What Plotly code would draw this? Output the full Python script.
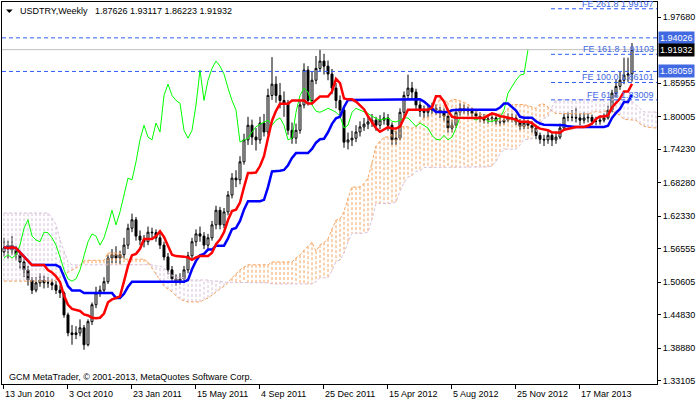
import plotly.graph_objects as go
import pandas as pd

# ---------------- data ----------------
x_tick_bars = [0, 16, 32, 48, 64, 80, 96, 112, 128, 144]
x_tick_labels = ["13 Jun 2010", "3 Oct 2010", "23 Jan 2011", "15 May 2011", "4 Sep 2011",
                 "25 Dec 2011", "15 Apr 2012", "5 Aug 2012", "25 Nov 2012", "17 Mar 2013"]

closes = [1.567, 1.572, 1.563, 1.555, 1.542, 1.528, 1.510, 1.492, 1.505, 1.510,
          1.505, 1.505, 1.501, 1.492, 1.487, 1.448, 1.416, 1.413, 1.416, 1.425,
          1.395, 1.436, 1.466, 1.487, 1.492, 1.507, 1.549, 1.555, 1.549, 1.555,
          1.572, 1.602, 1.617, 1.588, 1.581, 1.578, 1.595, 1.594, 1.585, 1.572,
          1.551, 1.528, 1.512, 1.508, 1.512, 1.528, 1.553, 1.578, 1.592, 1.588,
          1.572, 1.585, 1.608, 1.634, 1.608, 1.631, 1.661, 1.691, 1.688, 1.720,
          1.759, 1.785, 1.764, 1.759, 1.789, 1.773, 1.838, 1.858, 1.838, 1.829,
          1.824, 1.776, 1.762, 1.776, 1.821, 1.883, 1.829, 1.865, 1.886, 1.899,
          1.890, 1.876, 1.851, 1.829, 1.812, 1.755, 1.759, 1.762, 1.773, 1.782,
          1.787, 1.791, 1.794, 1.785, 1.794, 1.798, 1.785, 1.759, 1.762, 1.808,
          1.838, 1.851, 1.844, 1.821, 1.810, 1.808, 1.812, 1.815, 1.812, 1.808,
          1.801, 1.780, 1.785, 1.808, 1.815, 1.812, 1.810, 1.806, 1.801, 1.798,
          1.794, 1.796, 1.798, 1.792, 1.791, 1.794, 1.798, 1.798, 1.791, 1.783,
          1.789, 1.785, 1.780, 1.767, 1.760, 1.759, 1.767, 1.759, 1.764, 1.780,
          1.799, 1.799, 1.799, 1.798, 1.794, 1.798, 1.799, 1.792, 1.792, 1.794,
          1.798, 1.812, 1.842, 1.854, 1.865, 1.874, 1.876, 1.91932]

opens = [1.560, 1.567, 1.572, 1.563, 1.555, 1.542, 1.528, 1.510, 1.492, 1.505,
         1.510, 1.505, 1.505, 1.501, 1.492, 1.487, 1.448, 1.416, 1.413, 1.416,
         1.425, 1.395, 1.436, 1.466, 1.487, 1.492, 1.507, 1.549, 1.555, 1.549,
         1.555, 1.572, 1.602, 1.617, 1.588, 1.581, 1.578, 1.595, 1.594, 1.585,
         1.572, 1.551, 1.528, 1.512, 1.508, 1.512, 1.528, 1.553, 1.578, 1.592,
         1.588, 1.572, 1.585, 1.608, 1.634, 1.608, 1.631, 1.661, 1.691, 1.688,
         1.720, 1.759, 1.785, 1.764, 1.759, 1.789, 1.773, 1.838, 1.858, 1.838,
         1.829, 1.824, 1.776, 1.762, 1.776, 1.821, 1.883, 1.829, 1.865, 1.886,
         1.899, 1.890, 1.876, 1.851, 1.829, 1.812, 1.755, 1.759, 1.762, 1.773,
         1.782, 1.787, 1.791, 1.794, 1.785, 1.794, 1.798, 1.785, 1.759, 1.762,
         1.808, 1.838, 1.851, 1.844, 1.821, 1.810, 1.808, 1.812, 1.815, 1.812,
         1.808, 1.801, 1.780, 1.785, 1.808, 1.815, 1.812, 1.810, 1.806, 1.801,
         1.798, 1.794, 1.796, 1.798, 1.792, 1.791, 1.794, 1.798, 1.798, 1.791,
         1.783, 1.789, 1.785, 1.780, 1.767, 1.760, 1.759, 1.767, 1.759, 1.764,
         1.780, 1.799, 1.799, 1.799, 1.798, 1.794, 1.798, 1.799, 1.792, 1.792,
         1.794, 1.798, 1.812, 1.842, 1.854, 1.865, 1.874, 1.87626]

highs = [1.585, 1.580, 1.588, 1.570, 1.562, 1.548, 1.535, 1.515, 1.515, 1.522,
         1.518, 1.515, 1.512, 1.508, 1.500, 1.490, 1.452, 1.430, 1.428, 1.440,
         1.430, 1.440, 1.470, 1.498, 1.500, 1.515, 1.555, 1.565, 1.570, 1.562,
         1.585, 1.610, 1.628, 1.622, 1.598, 1.590, 1.605, 1.603, 1.600, 1.592,
         1.578, 1.558, 1.535, 1.520, 1.522, 1.535, 1.560, 1.585, 1.600, 1.605,
         1.595, 1.592, 1.615, 1.642, 1.640, 1.638, 1.668, 1.700, 1.705, 1.730,
         1.770, 1.800, 1.795, 1.780, 1.800, 1.805, 1.850, 1.906, 1.872, 1.860,
         1.845, 1.830, 1.790, 1.788, 1.830, 1.895, 1.890, 1.880, 1.908, 1.920,
         1.912, 1.900, 1.885, 1.860, 1.838, 1.818, 1.772, 1.775, 1.785, 1.792,
         1.798, 1.800, 1.805, 1.800, 1.803, 1.808, 1.805, 1.790, 1.775, 1.815,
         1.845, 1.875, 1.862, 1.850, 1.828, 1.820, 1.822, 1.825, 1.822, 1.818,
         1.815, 1.806, 1.795, 1.815, 1.824, 1.822, 1.818, 1.816, 1.812, 1.808,
         1.805, 1.804, 1.806, 1.805, 1.800, 1.802, 1.806, 1.806, 1.804, 1.796,
         1.797, 1.795, 1.792, 1.785, 1.772, 1.768, 1.775, 1.772, 1.772, 1.788,
         1.806, 1.808, 1.812, 1.816, 1.806, 1.808, 1.806, 1.804, 1.800, 1.802,
         1.806, 1.820, 1.848, 1.866, 1.880, 1.905, 1.905, 1.93117]

lows = [1.552, 1.548, 1.555, 1.545, 1.530, 1.515, 1.500, 1.485, 1.488, 1.498,
        1.495, 1.496, 1.492, 1.485, 1.478, 1.443, 1.410, 1.395, 1.405, 1.410,
        1.386, 1.392, 1.430, 1.460, 1.480, 1.485, 1.503, 1.540, 1.540, 1.538,
        1.548, 1.565, 1.595, 1.580, 1.572, 1.568, 1.572, 1.585, 1.578, 1.565,
        1.545, 1.520, 1.505, 1.500, 1.502, 1.505, 1.522, 1.548, 1.570, 1.578,
        1.565, 1.565, 1.580, 1.600, 1.600, 1.602, 1.625, 1.655, 1.675, 1.680,
        1.715, 1.750, 1.750, 1.740, 1.752, 1.765, 1.768, 1.830, 1.825, 1.815,
        1.800, 1.768, 1.752, 1.752, 1.770, 1.815, 1.820, 1.822, 1.858, 1.880,
        1.875, 1.865, 1.840, 1.815, 1.800, 1.745, 1.742, 1.748, 1.755, 1.765,
        1.775, 1.778, 1.782, 1.775, 1.778, 1.786, 1.775, 1.750, 1.750, 1.758,
        1.800, 1.830, 1.832, 1.812, 1.800, 1.798, 1.800, 1.805, 1.803, 1.798,
        1.792, 1.772, 1.772, 1.780, 1.802, 1.805, 1.802, 1.800, 1.795, 1.790,
        1.788, 1.788, 1.790, 1.786, 1.784, 1.786, 1.790, 1.790, 1.785, 1.776,
        1.778, 1.778, 1.772, 1.760, 1.752, 1.748, 1.752, 1.748, 1.752, 1.760,
        1.776, 1.792, 1.792, 1.790, 1.785, 1.788, 1.790, 1.785, 1.785, 1.786,
        1.790, 1.795, 1.808, 1.835, 1.848, 1.858, 1.862, 1.86223]

# cloud boundaries on the left part of the window (history before the window)
cloud_a_early = [1.508, 1.508, 1.508, 1.508, 1.508, 1.508, 1.508, 1.508, 1.508, 1.508,
                 1.508, 1.508, 1.508, 1.510, 1.514, 1.519, 1.524, 1.528, 1.531, 1.537,
                 1.544, 1.545, 1.545, 1.545, 1.545, 1.545, 1.558, 1.558, 1.558, 1.558,
                 1.547, 1.547, 1.547, 1.547, 1.547, 1.547, 1.542, 1.531, 1.519, 1.508,
                 1.499, 1.494, 1.489, 1.482, 1.476, 1.473, 1.471, 1.471, 1.471, 1.471,
                 1.475, 1.478, 1.483, 1.489, 1.494, 1.499, 1.505, 1.514, 1.521, 1.528,
                 1.533, 1.537, 1.537, 1.537, 1.537, 1.537, 1.537, 1.542, 1.542, 1.542,
                 1.542, 1.542, 1.542, 1.549, 1.554, 1.563, 1.570, 1.577]
cloud_b_early = [1.629, 1.629, 1.629, 1.629, 1.629, 1.629, 1.629, 1.629, 1.629, 1.629,
                 1.629, 1.629, 1.620, 1.608, 1.581, 1.560, 1.542, 1.537, 1.537, 1.537,
                 1.537, 1.537, 1.537, 1.537, 1.537, 1.537, 1.537, 1.537, 1.537, 1.537,
                 1.537, 1.537, 1.537, 1.537, 1.537, 1.537, 1.537, 1.537, 1.535, 1.535,
                 1.531, 1.524, 1.519, 1.515, 1.515, 1.514, 1.510, 1.510, 1.510, 1.510,
                 1.510, 1.510, 1.508, 1.508, 1.508, 1.506, 1.506, 1.506, 1.506, 1.506,
                 1.506, 1.505, 1.505, 1.505, 1.505, 1.505, 1.505, 1.503, 1.503, 1.503,
                 1.503, 1.503, 1.503, 1.503, 1.503, 1.503, 1.503, 1.503]

user_levels = [1.94026, 1.88059]
bid_price = 1.91932
fe_names = ["FE 261.8", "FE 161.8", "FE 100.0", "FE 61.8"]
fe_prices = [1.99197, 1.91103, 1.86101, 1.83009]
fe_start_bar = 136.75
y_tick_vals = [1.97680, 1.85955, 1.80005, 1.74230, 1.68280, 1.62330,
               1.56555, 1.50605, 1.44830, 1.38880, 1.33105]
title_text = "USDTRY,Weekly\u00a0\u00a0 1.87626 1.93117 1.86223 1.91932"
copyright_text = "GCM MetaTrader, © 2001-2013, MetaQuotes Software Corp."

# ---------------- Ichimoku (9, 26, 52) ----------------
n = len(closes)
bars = list(range(n))
H = pd.Series(highs)
L = pd.Series(lows)
tenkan = (H.rolling(9, min_periods=1).max() + L.rolling(9, min_periods=1).min()) / 2
kijun = (H.rolling(26, min_periods=1).max() + L.rolling(26, min_periods=1).min()) / 2
spanA = (tenkan + kijun) / 2
spanB = (H.rolling(52, min_periods=1).max() + L.rolling(52, min_periods=1).min()) / 2
k0 = len(cloud_a_early)
cloud_x = list(range(n + 26))
cloud_a = cloud_a_early + [float(spanA[j - 26]) for j in range(k0, n + 26)]
cloud_b = cloud_b_early + [float(spanB[j - 26]) for j in range(k0, n + 26)]
chikou_x = bars[:n - 26]
chikou_y = closes[26:]

X0, X1 = -0.5, 163.25
Y0, Y1 = 1.3252, 2.0040
FONT = "Liberation Sans"
ROYAL = "#4169E1"
LINEBLUE = "#2E5BFF"

fig = go.Figure()

# cloud hatch
ox, oy, tx, ty = [], [], [], []
for j in cloud_x:
    a, b = cloud_a[j], cloud_b[j]
    if a >= b:
        ox += [j, j, None]; oy += [a, b, None]
    else:
        tx += [j, j, None]; ty += [a, b, None]
fig.add_trace(go.Scatter(x=ox, y=oy, mode="lines", line=dict(color="#F4A460", width=1, dash="3px,2px"),
                         hoverinfo="skip", showlegend=False))
fig.add_trace(go.Scatter(x=tx, y=ty, mode="lines", line=dict(color="#D8BFD8", width=1, dash="3px,2px"),
                         hoverinfo="skip", showlegend=False))
fig.add_trace(go.Scatter(x=cloud_x, y=cloud_a, mode="lines", line=dict(color="#F4A460", width=1, dash="3px,2px"),
                         hoverinfo="skip", showlegend=False))
fig.add_trace(go.Scatter(x=cloud_x, y=cloud_b, mode="lines", line=dict(color="#D8BFD8", width=1, dash="3px,2px"),
                         hoverinfo="skip", showlegend=False))

# horizontal levels
for lv in user_levels:
    fig.add_shape(type="line", xref="x", yref="y", x0=X0, x1=X1, y0=lv, y1=lv,
                  line=dict(color=LINEBLUE, width=1, dash="4px,3px"))
for p in fe_prices:
    fig.add_shape(type="line", xref="x", yref="y", x0=fe_start_bar, x1=X1, y0=p, y1=p,
                  line=dict(color=LINEBLUE, width=1, dash="4px,3px"))
fig.add_shape(type="line", xref="x", yref="y", x0=X0, x1=X1, y0=bid_price, y1=bid_price,
              line=dict(color="#C0C0C0", width=1))

# candles
fig.add_trace(go.Candlestick(x=bars, open=opens, high=highs, low=lows, close=closes,
                             increasing=dict(line=dict(color="black", width=1), fillcolor="white"),
                             decreasing=dict(line=dict(color="black", width=1), fillcolor="black"),
                             whiskerwidth=0, showlegend=False, hoverinfo="skip"))

# chikou, kijun, tenkan
fig.add_trace(go.Scatter(x=chikou_x, y=chikou_y, mode="lines", line=dict(color="#00FF00", width=1),
                         hoverinfo="skip", showlegend=False))
fig.add_trace(go.Scatter(x=bars, y=kijun, mode="lines", line=dict(color="#0000FF", width=2.5),
                         hoverinfo="skip", showlegend=False))
fig.add_trace(go.Scatter(x=bars, y=tenkan, mode="lines", line=dict(color="#FF0000", width=2.5),
                         hoverinfo="skip", showlegend=False))

anns = []
for nm, p in zip(fe_names, fe_prices):
    anns.append(dict(x=1, xref="paper", y=p, yref="y", xanchor="right", yanchor="bottom",
                     xshift=-1, yshift=-2, showarrow=False, text=f"{nm} {p:.5f}",
                     font=dict(family=FONT, size=9, color=ROYAL)))
for lv, bg in [(user_levels[0], ROYAL), (bid_price, "black"), (user_levels[1], ROYAL)]:
    anns.append(dict(x=1, xref="paper", y=lv, yref="y", xanchor="left", yanchor="middle",
                     xshift=1, showarrow=False, text=f"{lv:.5f}", bgcolor=bg, borderpad=1,
                     font=dict(family=FONT, size=9, color="white")))
for b, t in zip(x_tick_bars, x_tick_labels):
    anns.append(dict(x=b - 0.2, xref="x", y=0, yref="paper", xanchor="left", yanchor="top",
                     yshift=-3, showarrow=False, text=t, font=dict(family=FONT, size=9, color="black")))
anns.append(dict(x=(18 - 2) / 655, xref="paper", y=(384 - 11) / 382, yref="paper", xanchor="left",
                 yanchor="middle", showarrow=False, text=title_text,
                 font=dict(family=FONT, size=9, color="black")))
anns.append(dict(x=(7 - 2) / 655, xref="paper", y=(384 - 377) / 382, yref="paper", xanchor="left",
                 yanchor="middle", showarrow=False, text=copyright_text,
                 font=dict(family=FONT, size=9, color="black")))

tri = "M {:.4f} {:.4f} L {:.4f} {:.4f} L {:.4f} {:.4f} Z".format(
    (6 - 2) / 655, (384 - 9.5) / 382, (12.7 - 2) / 655, (384 - 9.5) / 382, (9.35 - 2) / 655, (384 - 13) / 382)
fig.add_shape(type="path", xref="paper", yref="paper", path=tri, fillcolor="black", line=dict(width=0))

fig.update_layout(
    width=700, height=402, margin=dict(l=2, r=43, t=2, b=18),
    paper_bgcolor="white", plot_bgcolor="white", showlegend=False,
    annotations=anns,
    xaxis=dict(range=[X0, X1], showgrid=False, zeroline=False, showline=True, mirror=True,
               linecolor="black", linewidth=1, ticks="outside", ticklen=4, tickcolor="black",
               tickvals=[b - 0.2 for b in x_tick_bars], ticktext=[""] * len(x_tick_bars),
               rangeslider=dict(visible=False), fixedrange=True),
    yaxis=dict(range=[Y0, Y1], side="right", showgrid=False, zeroline=False, showline=True, mirror=True,
               linecolor="black", linewidth=1, ticks="outside", ticklen=3, tickcolor="black",
               tickvals=y_tick_vals, ticktext=[f"{v:.5f}" for v in y_tick_vals],
               tickfont=dict(family=FONT, size=9, color="black"), fixedrange=True),
)

fig.write_html("out.html", config={"displayModeBar": False},
               post_script="document.body.style.margin='0';document.body.style.overflow='hidden';")
